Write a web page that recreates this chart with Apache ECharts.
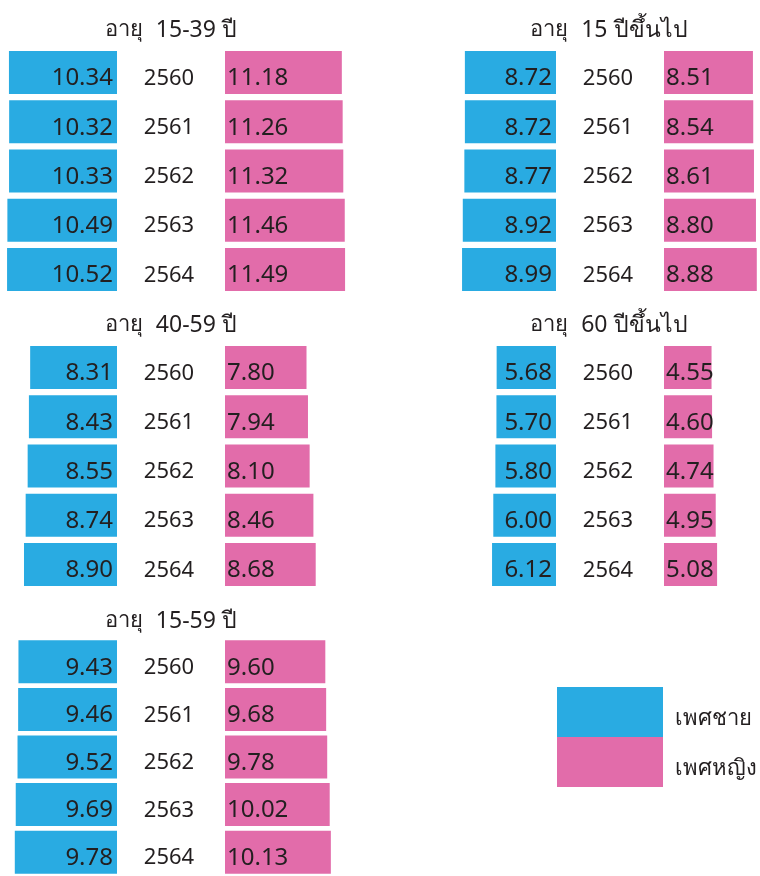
<!DOCTYPE html>
<html>
<head>
<meta charset="utf-8">
<script src="https://cdn.jsdelivr.net/npm/echarts@6/dist/echarts.min.js"></script>
<style>html,body{margin:0;padding:0;background:#fff;}#c{width:760px;height:876px;}</style>
</head>
<body>
<div id="c"></div>
<script>
const years = ['2560', '2561', '2562', '2563', '2564'];
const titleHeads = ['อายุ', 'อายุ', 'อายุ', 'อายุ', 'อายุ'];
const titleTails = ['15-39 ปี', '15 ปีขึ้นไป', '40-59 ปี', '60 ปีขึ้นไป', '15-59 ปี'];
const legendNames = ['เพศชาย', 'เพศหญิง'];
const male15_39 = [10.34, 10.32, 10.33, 10.49, 10.52];
const female15_39 = [11.18, 11.26, 11.32, 11.46, 11.49];
const male15up = [8.72, 8.72, 8.77, 8.92, 8.99];
const female15up = [8.51, 8.54, 8.61, 8.80, 8.88];
const male40_59 = [8.31, 8.43, 8.55, 8.74, 8.90];
const female40_59 = [7.80, 7.94, 8.10, 8.46, 8.68];
const male60up = [5.68, 5.70, 5.80, 6.00, 6.12];
const female60up = [4.55, 4.60, 4.74, 4.95, 5.08];
const male15_59 = [9.43, 9.46, 9.52, 9.69, 9.78];
const female15_59 = [9.60, 9.68, 9.78, 10.02, 10.13];

const BLUE = '#29abe2', PINK = '#e26caa', TXT = '#231f20';
const FONT = '"Noto Sans", "DejaVu Sans", sans-serif';
const PX = 10.45; // pixels per unit

const panels = [
  {male: male15_39, female: female15_39, mr: 117, fl: 225, top: 48, tx: 171, ty: 30},
  {male: male15up, female: female15up, mr: 556, fl: 664, top: 48, tx: 609, ty: 30},
  {male: male40_59, female: female40_59, mr: 117, fl: 225, top: 343, tx: 171, ty: 325},
  {male: male60up, female: female60up, mr: 556, fl: 664, top: 343, tx: 609, ty: 325},
  {male: male15_59, female: female15_59, mr: 117, fl: 225, top: 638, tx: 171, ty: 621}
];

const grid = [], xAxis = [], yAxis = [], series = [], graphic = [];
panels.forEach((p, i) => {
  const mw = p.mr - (p.mr > 300 ? 440 : 0);
  const fw = (p.fl > 300 ? 760 : 400) - p.fl;
  grid.push({left: p.mr - mw, width: mw, top: p.top, height: 246});
  grid.push({left: p.fl, width: fw, top: p.top, height: 246});
  const gm = i * 2, gf = i * 2 + 1;
  xAxis.push({type: 'value', gridIndex: gm, min: 0, max: mw / PX, inverse: true, show: false});
  xAxis.push({type: 'value', gridIndex: gf, min: 0, max: fw / PX, show: false});
  yAxis.push({type: 'category', gridIndex: gm, data: years, inverse: true, show: false});
  yAxis.push({type: 'category', gridIndex: gf, data: years, inverse: true, position: 'left',
    axisLine: {show: false}, axisTick: {show: false}, splitLine: {show: false},
    axisLabel: {show: true, margin: (p.fl - p.mr) / 2 + 2, align: 'center', fontSize: 22, color: TXT, fontFamily: FONT,
      formatter: v => '{y|' + v + '}',
      rich: {y: {fontSize: 22, color: TXT, fontFamily: FONT, padding: [12, 0, 0, 0]}}}});
  series.push({type: 'bar', name: legendNames[0], xAxisIndex: gm, yAxisIndex: gm, data: p.male, barWidth: 43,
    itemStyle: {color: BLUE}, silent: true,
    label: {show: true, position: 'insideRight', distance: 4, offset: [0, 6], fontSize: 24, color: TXT, fontFamily: FONT,
      formatter: d => d.value.toFixed(2)}});
  series.push({type: 'bar', name: legendNames[1], xAxisIndex: gf, yAxisIndex: gf, data: p.female, barWidth: 43,
    itemStyle: {color: PINK}, silent: true,
    label: {show: true, position: 'insideLeft', distance: 2, offset: [0, 6], fontSize: 24, color: TXT, fontFamily: FONT,
      formatter: d => d.value.toFixed(2)}});
  graphic.push({type: 'text', x: p.tx, y: p.ty, style: {
    text: '{a|' + titleHeads[i] + ' }{b|' + titleTails[i] + '}',
    align: 'center', verticalAlign: 'middle',
    fontSize: 22, fontFamily: FONT, fill: TXT,
    rich: {a: {fontSize: 22, fontFamily: FONT, fill: TXT, padding: [0, 7, 0, 0]},
           b: {fontSize: 23, fontFamily: FONT, fill: TXT}}}});
});

const chart = echarts.init(document.getElementById('c'), null, {renderer: 'canvas'});
chart.setOption({
  animation: false,
  backgroundColor: '#fff',
  grid, xAxis, yAxis, series, graphic,
  legend: {data: legendNames, orient: 'vertical', left: 557, top: 687, padding: 0, itemWidth: 106, itemHeight: 50, itemGap: 0,
    icon: 'rect', selectedMode: false,
    formatter: n => '{t|' + n + '}',
    textStyle: {fontSize: 22, color: TXT, fontFamily: FONT,
      rich: {t: {fontSize: 22, color: TXT, fontFamily: FONT, padding: [14, 0, 0, 7]}}}}
});
</script>
</body>
</html>
